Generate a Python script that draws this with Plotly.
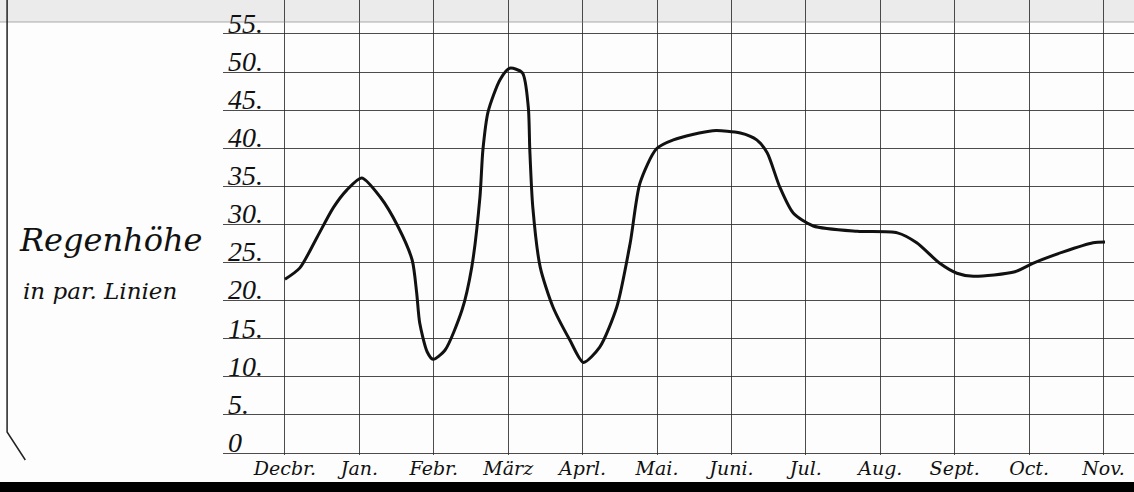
import plotly.graph_objects as go

# Month categories (x positions 0..11)
months = ["Decbr.", "Jan.", "Febr.", "März", "Aprl.", "Mai.", "Juni.", "Jul.", "Aug.", "Sept.", "Oct.", "Nov."]
month_pos = list(range(12))

# Y tick values and labels
y_ticks = [0, 5, 10, 15, 20, 25, 30, 35, 40, 45, 50, 55]
y_labels = ["0", "5.", "10.", "15.", "20.", "25.", "30.", "35.", "40.", "45.", "50.", "55."]

# Curve readings: position in months (0 = Decbr.) and rain height (par. Linien)
curve_x = [0.0, 0.20, 0.43, 0.65, 0.83, 1.03, 1.28, 1.52, 1.71, 1.77, 1.81, 1.91, 1.99,
           2.15, 2.38, 2.51, 2.62, 2.66, 2.73, 2.89, 3.02, 3.19, 3.27, 3.29, 3.33, 3.43,
           3.60, 3.83, 4.01, 4.23, 4.46, 4.64, 4.77, 4.99, 5.22, 5.75, 6.12, 6.34, 6.48,
           6.65, 6.83, 7.10, 7.69, 8.23, 8.49, 8.80, 9.03, 9.25, 9.81, 10.05, 10.46, 10.86, 11.02]
curve_y = [22.8, 24.3, 28.3, 32.2, 34.5, 36.1, 33.6, 29.7, 25.3, 21.0, 17.1, 13.3, 12.3,
           13.5, 18.8, 24.4, 33.6, 39.8, 44.8, 49.0, 50.5, 49.9, 45.4, 39.8, 32.3, 24.4,
           19.2, 14.8, 11.9, 13.9, 19.2, 27.6, 35.4, 39.9, 41.1, 42.3, 42.0, 41.1, 39.4,
           34.9, 31.5, 29.8, 29.1, 28.9, 27.6, 24.9, 23.6, 23.2, 23.8, 24.9, 26.4, 27.6, 27.7]

grid_col = "rgba(45,45,45,0.85)"
PLOT_H = 455  # plot area height in px
num_font = dict(family="Liberation Serif", size=28, color="#111111", style="italic")

fig = go.Figure()
fig.add_trace(go.Scatter(
    x=curve_x, y=curve_y, mode="lines",
    line=dict(color="#111111", width=3, shape="spline", smoothing=0.7),
    hoverinfo="skip", showlegend=False,
))

fig.update_layout(
    width=1134, height=492,
    margin=dict(l=223, r=0, t=0, b=492 - PLOT_H),
    paper_bgcolor="#fdfdfd", plot_bgcolor="#fdfdfd",
    showlegend=False,
    xaxis=dict(
        range=[-0.833, 11.41],
        tickvals=month_pos, ticktext=months,
        showgrid=True, gridcolor=grid_col, gridwidth=1,
        zeroline=False, showline=False,
        ticks="",
        tickfont=dict(family="DejaVu Serif", size=19, color="#111111", style="italic"),
    ),
    yaxis=dict(
        range=[-0.25, 59.45],
        tickvals=y_ticks, ticktext=y_labels,
        showgrid=True, gridcolor=grid_col, gridwidth=1,
        zeroline=False, showline=False,
        ticks="",
        ticklabelposition="inside", ticklabelshift=-11, ticklabelstandoff=2,
        ticklabeloverflow="allow",
        tickfont=num_font,
    ),
)

# Axis title, written like the original in two lines to the left of the scale
fig.add_annotation(text="Regenhöhe", xref="paper", yref="paper",
                   x=-0.124, y=(PLOT_H - 240) / PLOT_H, xanchor="center", yanchor="middle",
                   showarrow=False,
                   font=dict(family="DejaVu Serif", size=32, color="#111111", style="italic"))
fig.add_annotation(text="in par. Linien", xref="paper", yref="paper",
                   x=-0.135, y=(PLOT_H - 291) / PLOT_H, xanchor="center", yanchor="middle",
                   showarrow=False,
                   font=dict(family="DejaVu Serif", size=23, color="#111111", style="italic"))

# Page decorations: grey edge at the top, black band at the bottom, frame line at left
fig.add_shape(type="rect", xref="paper", yref="paper", x0=-0.25, x1=1.0,
              y0=1 - 22 / PLOT_H, y1=1.0, fillcolor="rgba(200,200,200,0.35)",
              line=dict(width=0), layer="below")
fig.add_shape(type="line", xref="paper", yref="paper", x0=-0.25, x1=1.0,
              y0=1 - 22 / PLOT_H, y1=1 - 22 / PLOT_H, line=dict(color="rgba(120,120,120,0.6)", width=1))
fig.add_shape(type="rect", xref="paper", yref="paper", x0=-0.25, x1=1.0,
              y0=(PLOT_H - 495) / PLOT_H, y1=(PLOT_H - 482) / PLOT_H, fillcolor="#000000",
              line=dict(width=0))
fig.add_shape(type="path", xref="paper", yref="paper",
              path="M -0.237 1.0 L -0.237 %.4f L -0.217 %.4f" % ((PLOT_H - 432) / PLOT_H, (PLOT_H - 460) / PLOT_H),
              line=dict(color="#222222", width=1.5))

fig.write_html("out.html", config={"displayModeBar": False},
               post_script="document.body.style.margin='0';document.body.style.overflow='hidden';")
